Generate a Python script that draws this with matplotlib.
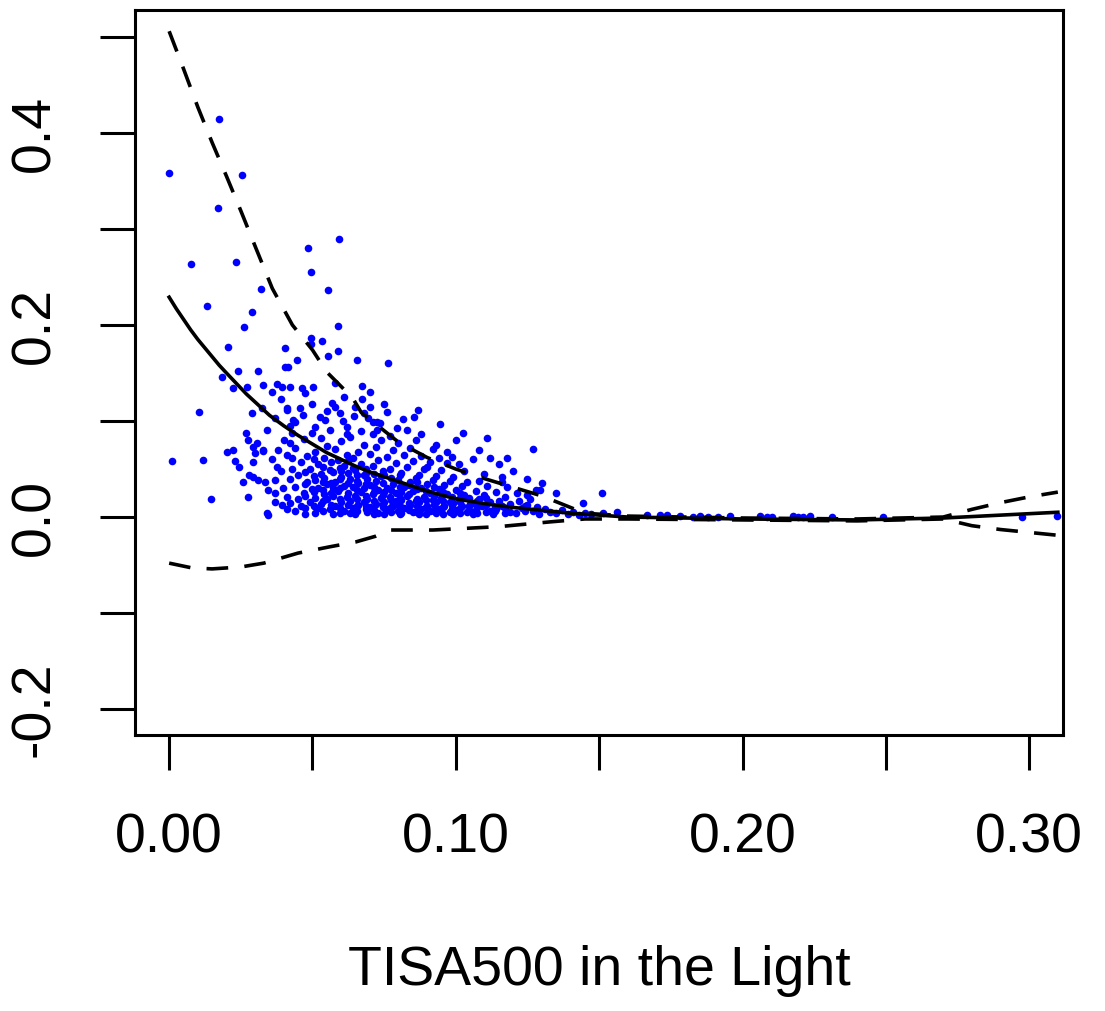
#!/usr/bin/env python3
# -*- coding: utf-8 -*-
"""
Scatter of TISA500 in the Light with smooth fit and confidence band (R style plot)
"""

import matplotlib
matplotlib.use('Agg')
import matplotlib.pyplot as plt

# Scattered points (sparse part, read point by point)
sparse_x = [0.0174, 0.0, 0.0255, 0.0171, 0.0485, 0.0593, 0.0077, 0.0234, 0.0495, 0.0321,
            0.0555, 0.0133, 0.0290, 0.0262, 0.0589, 0.0206, 0.0405, 0.0495, 0.0534, 0.0495,
            0.0589, 0.0446, 0.0555, 0.0405, 0.0415, 0.0241, 0.0310, 0.0185, 0.0223, 0.0272,
            0.0328, 0.0377, 0.0394, 0.0422, 0.0464, 0.0502, 0.0579, 0.0359, 0.0474, 0.0391,
            0.0569, 0.0105, 0.0412, 0.0457, 0.0324, 0.0467, 0.0370, 0.0433, 0.0527, 0.0544,
            0.0596, 0.0509, 0.0656, 0.0764, 0.0673, 0.0673, 0.0701, 0.0760, 0.0869, 0.0645,
            0.0694, 0.0725, 0.0736, 0.0816, 0.0855, 0.0945, 0.0607, 0.0010, 0.0119, 0.0146,
            0.0276, 0.0202, 0.0223, 0.0269, 0.0276, 0.0307, 0.0300, 0.0328, 0.0230, 0.0244,
            0.0293, 0.0279, 0.0258, 0.0310, 0.0335, 0.0345, 0.0370, 0.0377, 0.0370, 0.0345,
            0.0394, 0.0412, 0.0422, 0.0398, 0.0342, 0.0412, 0.0439, 0.1025, 0.1109, 0.1120,
            0.1270, 0.1161, 0.0987, 0.0900, 0.0795, 0.0712, 0.0725, 0.0342, 0.0293, 0.0290,
            0.0293, 0.0328, 0.0422, 0.1214, 0.1249, 0.1294, 0.1284, 0.1510, 0.1444, 0.1514,
            0.1563, 0.1667, 0.1713, 0.1737]
sparse_y = [0.415, 0.358, 0.356, 0.322, 0.280, 0.290, 0.264, 0.266, 0.255, 0.238,
            0.236, 0.220, 0.214, 0.198, 0.199, 0.177, 0.176, 0.186, 0.183, 0.180,
            0.173, 0.164, 0.168, 0.156, 0.156, 0.152, 0.152, 0.146, 0.134, 0.135,
            0.1375, 0.1385, 0.135, 0.135, 0.134, 0.135, 0.140, 0.130, 0.129, 0.123,
            0.119, 0.109, 0.1135, 0.1135, 0.1135, 0.106, 0.103, 0.101, 0.104, 0.101,
            0.108, 0.094, 0.164, 0.160, 0.136, 0.123, 0.115, 0.109, 0.111, 0.105,
            0.103, 0.099, 0.098, 0.102, 0.104, 0.097, 0.100, 0.058, 0.059, 0.019,
            0.021, 0.068, 0.070, 0.0875, 0.080, 0.077, 0.067, 0.069, 0.058, 0.052,
            0.057, 0.044, 0.036, 0.0385, 0.036, 0.028, 0.0385, 0.052, 0.0156, 0.002,
            0.0125, 0.021, 0.0146, 0.030, 0.091, 0.111, 0.099, 0.0875, 0.082, 0.061,
            0.071, 0.042, 0.0625, 0.052, 0.093, 0.099, 0.091, 0.004, 0.042, 0.108,
            0.073, 0.070, 0.077, 0.025, 0.023, 0.028, 0.0104, 0.025, 0.0146, 0.004,
            0.005, 0.002, 0.002, 0.002]

# Points lying on the flat tail (y about zero)
tail_x = [0.1782, 0.1828, 0.1852, 0.1880, 0.1915, 0.1957, 0.2061, 0.2086, 0.2103, 0.2176,
          0.2194, 0.2211, 0.2236, 0.2313, 0.2490, 0.2975, 0.3097]
tail_y = [0.001, 0.0, 0.001, 0.0, 0.0, 0.001, 0.001, 0.0, 0.0, 0.001,
          0.0, 0.0, 0.001, 0.0, 0.0, 0.0, 0.001]

# Dense cloud, estimated column by column
dense_x = [0.044, 0.046, 0.045, 0.047, 0.044, 0.048, 0.045, 0.049, 0.046, 0.048, 0.044, 0.047, 0.050, 0.043, 0.042, 0.049, 0.050, 0.043,
           0.051, 0.052, 0.053, 0.051, 0.054, 0.052, 0.055, 0.051, 0.053, 0.056, 0.052, 0.054, 0.051, 0.055, 0.053, 0.056, 0.055, 0.056, 0.054,
           0.057, 0.058, 0.060, 0.057, 0.059, 0.061, 0.058, 0.060, 0.057, 0.061, 0.059, 0.062, 0.058, 0.060, 0.062, 0.061, 0.062, 0.057, 0.060,
           0.063, 0.064, 0.066, 0.063, 0.065, 0.067, 0.064, 0.066, 0.063, 0.068, 0.065, 0.067, 0.064, 0.066, 0.068, 0.063, 0.067, 0.065, 0.068, 0.068, 0.064,
           0.069, 0.070, 0.072, 0.069, 0.071, 0.073, 0.070, 0.072, 0.074, 0.069, 0.071, 0.073, 0.070, 0.072, 0.074, 0.071, 0.073, 0.074, 0.069,
           0.075, 0.076, 0.078, 0.075, 0.077, 0.079, 0.076, 0.078, 0.080, 0.075, 0.077, 0.079, 0.076, 0.078, 0.080, 0.077, 0.080, 0.079, 0.075,
           0.081, 0.082, 0.084, 0.081, 0.083, 0.085, 0.082, 0.084, 0.086, 0.081, 0.083, 0.085, 0.082, 0.084, 0.086, 0.085, 0.086, 0.081,
           0.087, 0.088, 0.090, 0.087, 0.089, 0.091, 0.088, 0.090, 0.092, 0.087, 0.089, 0.091, 0.088, 0.092, 0.091, 0.092,
           0.093, 0.094, 0.096, 0.093, 0.095, 0.097, 0.094, 0.096, 0.098, 0.093, 0.095, 0.097, 0.094, 0.098, 0.098,
           0.099, 0.100, 0.102, 0.099, 0.101, 0.103, 0.100, 0.102, 0.104, 0.099, 0.103, 0.101, 0.104, 0.105,
           0.106, 0.107, 0.109, 0.106, 0.108, 0.110, 0.107, 0.111, 0.108, 0.110, 0.112, 0.112,
           0.113, 0.114, 0.116, 0.115, 0.117, 0.114, 0.118, 0.119, 0.119, 0.116,
           0.121, 0.123, 0.125, 0.122, 0.127, 0.129, 0.131, 0.133, 0.126, 0.135, 0.137, 0.139, 0.141, 0.143, 0.145, 0.147,
           0.036, 0.038, 0.040, 0.041, 0.039, 0.037, 0.041, 0.043, 0.042, 0.055, 0.062, 0.065, 0.068, 0.058, 0.050, 0.061,
           0.070, 0.075, 0.083, 0.088, 0.093, 0.097, 0.106, 0.100, 0.108, 0.115, 0.120, 0.118, 0.125, 0.130, 0.135, 0.128]
dense_y = [0.006, 0.012, 0.019, 0.025, 0.031, 0.037, 0.044, 0.050, 0.057, 0.064, 0.072, 0.081, 0.088, 0.050, 0.040, 0.016, 0.029, 0.061,
           0.004, 0.009, 0.014, 0.020, 0.024, 0.030, 0.034, 0.039, 0.045, 0.049, 0.055, 0.061, 0.068, 0.074, 0.082, 0.091, 0.019, 0.008, 0.041,
           0.003, 0.011, 0.016, 0.022, 0.027, 0.032, 0.037, 0.042, 0.047, 0.053, 0.059, 0.065, 0.071, 0.079, 0.086, 0.006, 0.021, 0.030, 0.048,
           0.004, 0.009, 0.013, 0.017, 0.022, 0.026, 0.031, 0.035, 0.040, 0.044, 0.049, 0.055, 0.061, 0.068, 0.075, 0.083, 0.090, 0.003, 0.016, 0.030, 0.051,
           0.005, 0.010, 0.014, 0.019, 0.024, 0.028, 0.033, 0.038, 0.043, 0.047, 0.053, 0.059, 0.066, 0.073, 0.080, 0.087, 0.004, 0.020, 0.040,
           0.003, 0.008, 0.012, 0.016, 0.021, 0.025, 0.030, 0.034, 0.039, 0.044, 0.050, 0.056, 0.063, 0.070, 0.077, 0.084, 0.006, 0.017, 0.026,
           0.004, 0.009, 0.013, 0.018, 0.022, 0.027, 0.031, 0.036, 0.041, 0.046, 0.052, 0.058, 0.065, 0.072, 0.080, 0.005, 0.017, 0.026,
           0.003, 0.008, 0.012, 0.016, 0.021, 0.025, 0.030, 0.034, 0.039, 0.044, 0.050, 0.057, 0.064, 0.071, 0.006, 0.018,
           0.004, 0.008, 0.012, 0.016, 0.020, 0.024, 0.029, 0.033, 0.038, 0.043, 0.049, 0.056, 0.062, 0.005, 0.016,
           0.003, 0.007, 0.011, 0.015, 0.019, 0.023, 0.028, 0.032, 0.037, 0.042, 0.048, 0.055, 0.005, 0.014,
           0.003, 0.007, 0.011, 0.015, 0.019, 0.023, 0.027, 0.032, 0.038, 0.045, 0.006, 0.016,
           0.003, 0.008, 0.012, 0.017, 0.021, 0.026, 0.031, 0.005, 0.014, 0.036,
           0.004, 0.009, 0.013, 0.017, 0.006, 0.003, 0.008, 0.005, 0.019, 0.004, 0.007, 0.003, 0.005, 0.002, 0.004, 0.003,
           0.060, 0.070, 0.080, 0.065, 0.048, 0.025, 0.008, 0.088, 0.095, 0.110, 0.094, 0.115, 0.108, 0.115, 0.118, 0.125,
           0.130, 0.118, 0.091, 0.086, 0.075, 0.068, 0.060, 0.080, 0.070, 0.055, 0.048, 0.062, 0.040, 0.035, 0.025, 0.028]

# Core of the cloud, where the dots overlap into a solid patch
core_x = [0.0475, 0.0475, 0.0475, 0.0475, 0.0475,
          0.0505, 0.0505, 0.0505, 0.0505,
          0.0535, 0.0535, 0.0535, 0.0535, 0.0535,
          0.0565, 0.0565, 0.0565, 0.0565,
          0.0595, 0.0595, 0.0595, 0.0595, 0.0595, 0.0595,
          0.0625, 0.0625, 0.0625, 0.0625, 0.0625,
          0.0655, 0.0655, 0.0655, 0.0655, 0.0655, 0.0655,
          0.0685, 0.0685, 0.0685, 0.0685, 0.0685,
          0.0715, 0.0715, 0.0715, 0.0715, 0.0715, 0.0715,
          0.0745, 0.0745, 0.0745, 0.0745, 0.0745,
          0.0775, 0.0775, 0.0775, 0.0775, 0.0775,
          0.0805, 0.0805, 0.0805, 0.0805, 0.0805,
          0.0835, 0.0835, 0.0835, 0.0835,
          0.0865, 0.0865, 0.0865, 0.0865, 0.0865,
          0.0895, 0.0895, 0.0895, 0.0895,
          0.0925, 0.0925, 0.0925, 0.0925,
          0.0955, 0.0955, 0.0955, 0.0955,
          0.0985, 0.0985, 0.0985,
          0.1015, 0.1015, 0.1015, 0.1015,
          0.1045, 0.1045, 0.1045,
          0.1075, 0.1075, 0.1075,
          0.1105, 0.1105, 0.1105,
          0.1135, 0.1135, 0.117, 0.117, 0.124, 0.124]
core_y = [0.003, 0.009, 0.022, 0.034, 0.047,
          0.012, 0.026, 0.043, 0.060,
          0.006, 0.017, 0.028, 0.037, 0.052,
          0.013, 0.025, 0.035, 0.057,
          0.004, 0.009, 0.019, 0.030, 0.040, 0.051,
          0.013, 0.025, 0.035, 0.046, 0.058,
          0.006, 0.011, 0.019, 0.028, 0.038, 0.044,
          0.008, 0.012, 0.022, 0.034, 0.050,
          0.003, 0.007, 0.017, 0.026, 0.031, 0.045,
          0.010, 0.014, 0.023, 0.035, 0.048,
          0.005, 0.010, 0.018, 0.028, 0.041,
          0.003, 0.011, 0.020, 0.031, 0.044,
          0.007, 0.015, 0.024, 0.033,
          0.005, 0.012, 0.019, 0.029, 0.037,
          0.003, 0.010, 0.018, 0.027,
          0.006, 0.013, 0.022, 0.031,
          0.003, 0.010, 0.017, 0.026,
          0.008, 0.013, 0.021,
          0.004, 0.009, 0.016, 0.025,
          0.007, 0.012, 0.020,
          0.004, 0.010, 0.017,
          0.005, 0.013, 0.020,
          0.010, 0.006, 0.004, 0.009, 0.006, 0.011]

# Smooth fit (solid) and its upper / lower bands (dashed)
fit_x = [0.0, 0.0025, 0.005, 0.0075, 0.01, 0.0125, 0.015, 0.0175, 0.02, 0.0235, 0.027, 0.031,
         0.035, 0.040, 0.045, 0.050, 0.055, 0.060, 0.065, 0.07, 0.08, 0.09, 0.10,
         0.11, 0.12, 0.13, 0.14, 0.16, 0.20, 0.24, 0.27, 0.29, 0.31]
fit_y = [0.229, 0.217, 0.206, 0.195, 0.185, 0.176, 0.167, 0.158, 0.150, 0.139, 0.128, 0.117,
         0.106, 0.095, 0.085, 0.076, 0.067, 0.060, 0.053, 0.047, 0.037, 0.027, 0.019,
         0.014, 0.010, 0.007, 0.004, 0.000, -0.002, -0.003, -0.001, 0.002, 0.005]

upper_x = [0.0, 0.005, 0.01, 0.015, 0.02, 0.025, 0.03, 0.036, 0.043, 0.05, 0.055, 0.064,
           0.067, 0.08, 0.09, 0.10, 0.11, 0.12, 0.13, 0.145, 0.16, 0.20, 0.24, 0.27,
           0.28, 0.29, 0.30, 0.31]
upper_y = [0.506, 0.467, 0.427, 0.390, 0.355, 0.319, 0.282, 0.238, 0.200, 0.174, 0.151, 0.124,
           0.109, 0.078, 0.062, 0.050, 0.040, 0.031, 0.022, 0.004, 0.001, -0.001, -0.002, 0.0,
           0.008, 0.015, 0.021, 0.026]

lower_x = [0.0, 0.008, 0.015, 0.025, 0.033, 0.045, 0.056, 0.065, 0.072, 0.077, 0.092, 0.115,
           0.133, 0.145, 0.16, 0.20, 0.24, 0.27, 0.28, 0.29, 0.30, 0.31]
lower_y = [-0.048, -0.053, -0.054, -0.052, -0.048, -0.0375, -0.031, -0.026, -0.020, -0.0135, -0.0135, -0.010,
           -0.005, -0.002, -0.002, -0.003, -0.004, -0.002, -0.009, -0.013, -0.016, -0.019]

x_ticks = [0.0, 0.05, 0.10, 0.15, 0.20, 0.25, 0.30]
x_labels = ['0.00', '', '0.10', '', '0.20', '', '0.30']
y_ticks = [-0.2, -0.1, 0.0, 0.1, 0.2, 0.3, 0.4, 0.5]
y_labels = ['-0.2', '', '0.0', '', '0.2', '', '0.4', '']

plt.rcParams['font.family'] = ['Liberation Sans', 'DejaVu Sans']

fig = plt.figure(figsize=(11.05, 10.11), dpi=100)
ax = fig.add_axes([0.1222, 0.273, 0.8398, 0.717])

# points
all_x = sparse_x + tail_x + dense_x + core_x
all_y = sparse_y + tail_y + dense_y + core_y
ax.scatter(all_x, all_y, s=30, color='#0000ff', linewidths=0, zorder=2)

# fit and bands
ax.plot(fit_x, fit_y, color='black', lw=2.6, zorder=3)
ax.plot(upper_x, upper_y, color='black', lw=2.6, dashes=(6, 4.5), zorder=3)
ax.plot(lower_x, lower_y, color='black', lw=2.6, dashes=(6, 4.5), zorder=3)

ax.set_xlim(-0.0119, 0.3118)
ax.set_ylim(-0.227, 0.528)

ax.set_xticks(x_ticks)
ax.set_xticklabels(x_labels)
ax.set_yticks(y_ticks)
ax.set_yticklabels(y_labels, rotation=90, va='center')
ax.tick_params(axis='both', length=25, width=2.2, labelsize=40, color='black')
ax.tick_params(axis='x', pad=31)
ax.tick_params(axis='y', pad=28)

for sp in ax.spines.values():
    sp.set_linewidth(2.2)

ax.set_xlabel('TISA500 in the Light', fontsize=40, labelpad=58)

fig.savefig('out.png', dpi=100)
